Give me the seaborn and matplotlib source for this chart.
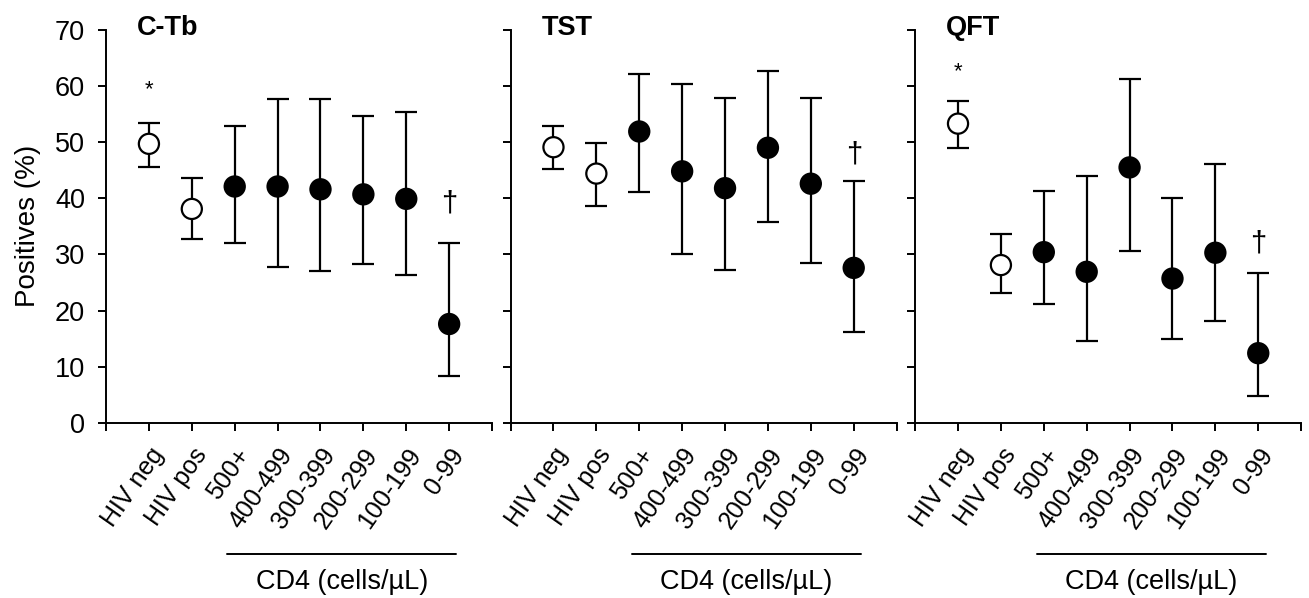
import numpy as np
import pandas as pd
import seaborn as sns
import matplotlib.pyplot as plt
import matplotlib.transforms as mtransforms

# ---- data ----
groups = ["HIV neg", "HIV pos", "500+", "400-499", "300-399", "200-299", "100-199", "0-99"]
open_marker = [True, True, False, False, False, False, False, False]
tests = ["C-Tb", "TST", "QFT"]

ctb_mean = [49.7, 38.1, 42.1, 42.1, 41.6, 40.7, 39.9, 17.6]
ctb_low = [45.6, 32.7, 32.0, 27.8, 27.0, 28.3, 26.3, 8.4]
ctb_high = [53.4, 43.7, 52.8, 57.7, 57.7, 54.6, 55.3, 32.1]

tst_mean = [49.1, 44.4, 51.9, 44.8, 41.8, 49.0, 42.6, 27.6]
tst_low = [45.2, 38.7, 41.2, 30.1, 27.2, 35.7, 28.5, 16.1]
tst_high = [52.9, 49.9, 62.2, 60.3, 57.8, 62.6, 57.8, 43.0]

qft_mean = [53.3, 28.1, 30.4, 26.9, 45.5, 25.7, 30.3, 12.4]
qft_low = [49.0, 23.2, 21.2, 14.5, 30.6, 15.0, 18.1, 4.8]
qft_high = [57.3, 33.6, 41.3, 44.0, 61.2, 40.0, 46.1, 26.7]

# significance marks: (group index, y position, symbol)
ctb_marks = [(0, 59.3, "*"), (7, 39.0, "\u2020")]
tst_marks = [(7, 47.8, "\u2020")]
qft_marks = [(0, 62.5, "*"), (7, 32.0, "\u2020")]

sns.set_style("ticks")
plt.rcParams['font.family'] = ['Liberation Sans', 'DejaVu Sans']
plt.rcParams.update({
    "text.color": "black",
    "axes.labelcolor": "black",
    "axes.edgecolor": "black",
    "xtick.color": "black",
    "ytick.color": "black",
})

panels = [
    (tests[0], ctb_mean, ctb_low, ctb_high, ctb_marks),
    (tests[1], tst_mean, tst_low, tst_high, tst_marks),
    (tests[2], qft_mean, qft_low, qft_high, qft_marks),
]

fig, axes = plt.subplots(1, 3, figsize=(13.09, 5.98), dpi=100, sharey=True)
fig.subplots_adjust(left=0.081, right=0.994, top=0.95, bottom=0.293, wspace=0.048)

for ax, (name, mean, low, high, marks) in zip(axes, panels):
    df = pd.DataFrame({
        "group": groups,
        "pos": np.arange(1, len(groups) + 1),
        "mean": mean,
        "low": low,
        "high": high,
        "open": open_marker,
    })
    yerr = np.vstack([df["mean"] - df["low"], df["high"] - df["mean"]])
    ax.errorbar(df["pos"], df["mean"], yerr=yerr, fmt="none", ecolor="black",
                elinewidth=1.6, capsize=8, capthick=1.6, zorder=2)
    sns.scatterplot(data=df, x="pos", y="mean", hue="open",
                    palette={True: "white", False: "black"},
                    edgecolor="black", linewidth=1.6, s=210, legend=False,
                    ax=ax, zorder=3)

    for idx, yv, sym in marks:
        fs = 16 if sym == "*" else 21
        ax.text(idx + 1, yv, sym, ha="center", va="center", fontsize=fs)

    ax.set_xlim(0, 9)
    ax.set_ylim(0, 70)
    ax.set_xticks(range(0, 10))
    ax.set_xticklabels([""] + groups + [""], rotation=55, ha="right",
                       rotation_mode="anchor", fontsize=18)
    ax.set_yticks(range(0, 71, 10))
    ax.tick_params(axis="both", direction="out", length=6, width=1.4)
    ax.tick_params(axis="y", pad=9, labelsize=19.5)
    ax.tick_params(axis="x", pad=9)
    ax.set_xlabel("")
    ax.set_ylabel("")
    for sp in ["left", "bottom"]:
        ax.spines[sp].set_linewidth(1.4)
    sns.despine(ax=ax)

    ax.text(0.08, 1.005, name, transform=ax.transAxes, ha="left", va="center",
            fontsize=19.5, fontweight="bold")

    # CD4 bracket under the tick labels
    trans = mtransforms.blended_transform_factory(ax.transData, ax.transAxes)
    ax.plot([2.83, 8.17], [-0.333, -0.333], color="black", lw=1.4,
            transform=trans, clip_on=False)
    ax.text(5.5, -0.405, "CD4 (cells/\u00b5L)", transform=trans, ha="center",
            va="center", fontsize=19.5)

axes[0].set_ylabel("Positives (%)", fontsize=20, labelpad=10)
for ax in axes[1:]:
    ax.tick_params(axis="y", labelleft=False)

fig.savefig("out.png", dpi=100)
